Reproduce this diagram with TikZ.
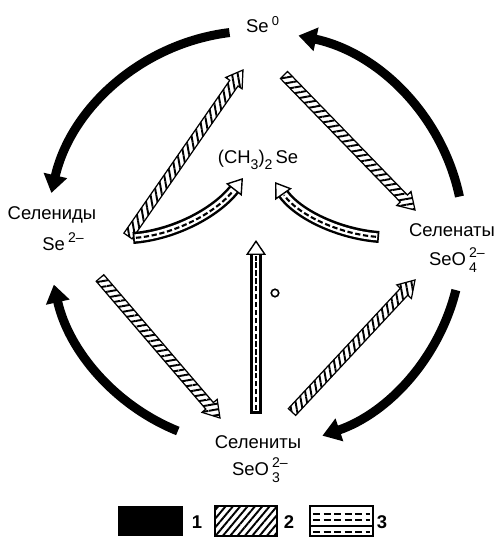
\documentclass[tikz,border=0pt]{standalone}
\usepackage{fontspec}
\setmainfont{Liberation Sans}
\usetikzlibrary{arrows.meta,calc,patterns.meta}

% formula with stacked sub- and superscript
\newcommand{\ionf}[3]{#1\,\makebox[0.85em][l]{%
  \rlap{\raisebox{4.6pt}{\footnotesize #3}}\raisebox{-3.8pt}{\footnotesize #2}}}

% hatched block arrow: stripe angle, tail, tip
\newcommand{\blockarrow}[3]{%
  \coordinate (hb) at ($(#3)!0.32cm!(#2)$);
  \draw[hatch=#1] ($(#2)!0.1cm!90:(#3)$) -- ($(hb)!0.1cm!90:(#3)$)
    -- ($(hb)!0.2cm!90:(#3)$) -- (#3) -- ($(hb)!0.2cm!-90:(#3)$)
    -- ($(hb)!0.1cm!-90:(#3)$) -- ($(#2)!0.1cm!-90:(#3)$) -- cycle;}

% double-walled dashed arrow: tail, control, control, tip
\newcommand{\dasharrow}[4]{%
  \foreach \s in {dshaft,dinner,ddash}
    \draw[\s] (#1) .. controls (#2) and (#3) .. (#4);
  \draw[dhead] ($(#4)!0.3cm!(#3)$) -- (#4);}

\begin{document}
\begin{tikzpicture}[
  x=0.02cm, y=0.02cm,
  font=\fontsize{10.5}{12}\selectfont,
  lbl/.style={inner sep=1pt, align=center},
  cycarrow/.style={line width=0.18cm, -{Triangle[length=0.36cm, width=0.46cm]}},
  hatch/.style={draw, line width=0.7pt, pattern={Lines[angle=#1, distance=3.2pt, line width=1.1pt]}},
  dshaft/.style={line width=0.24cm, shorten >=0.26cm},
  dinner/.style={white, line width=0.14cm, shorten >=0.26cm, shorten <=0.035cm},
  ddash/.style={line width=1.2pt, dash pattern=on 3pt off 1.5pt, shorten >=0.32cm, shorten <=0.06cm},
  dhead/.style={white, line width=0.1pt, -{Triangle[length=0.3cm, width=0.4cm, color=black, fill=white, line width=0.8pt]}}
]
\useasboundingbox (0,0) rectangle (500,539);

% species
\node[lbl] (se0) at (263,514) {Se\,\textsuperscript{0}};
\node[lbl] (selenides) at (52,324) {Селениды};
\node[lbl] (selenidesf) at (63,297) {Se\,\raisebox{4.6pt}{\footnotesize 2--}};
\node[lbl] (selenates) at (452,309) {Селенаты};
\node[lbl] (selenatesf) at (457,279) {\ionf{SeO}{4}{2--}};
\node[lbl] (selenites) at (258,97) {Селениты};
\node[lbl] (selenitesf) at (260,69) {\ionf{SeO}{3}{2--}};
\node[lbl] (dms) at (258,379) {(CH\raisebox{-3.8pt}{\footnotesize 3})\raisebox{-3.8pt}{\footnotesize 2}\,Se};
\node[circle, draw, line width=0.9pt, minimum size=0.15cm, inner sep=0pt] (dot) at (275,246) {};

% outer cycle
\coordinate (c) at (255,299);
\draw[cycarrow] ([shift={(97:209)}]c) arc[start angle=97, end angle=167, radius=209];
\draw[cycarrow] ([shift={(12:209)}]c) arc[start angle=12, end angle=78, radius=209];
\draw[cycarrow] ([shift={(-14:207)}]c) arc[start angle=-14, end angle=-71, radius=207];
\draw[cycarrow] ([shift={(248:206)}]c) arc[start angle=248, end angle=192.5, radius=206];

% hatched arrows
\coordinate (h1a) at (128,303); \coordinate (h1b) at (243,469);
\coordinate (h2a) at (284,464); \coordinate (h2b) at (415,329);
\coordinate (h3a) at (100,261); \coordinate (h3b) at (220,121);
\coordinate (h4a) at (292,127); \coordinate (h4b) at (415,259);
\blockarrow{100}{h1a}{h1b}
\blockarrow{10}{h2a}{h2b}
\blockarrow{10}{h3a}{h3b}
\blockarrow{100}{h4a}{h4b}

% methylation arrows
\coordinate (d1a) at (133,301); \coordinate (d1b) at (172,304);
\coordinate (d1c) at (215,325); \coordinate (d1d) at (243,361);
\coordinate (d2a) at (379,302); \coordinate (d2b) at (340,305);
\coordinate (d2c) at (298,324); \coordinate (d2d) at (275,357);
\coordinate (d3a) at (256,126); \coordinate (d3b) at (256,299);
\dasharrow{d1a}{d1b}{d1c}{d1d}
\dasharrow{d2a}{d2b}{d2c}{d2d}
\dasharrow{d3a}{d3a}{d3a}{d3b}

% legend
\fill (118,3) rectangle (183,33);
\node[lbl, font=\fontsize{10.5}{12}\selectfont\bfseries] (key1) at (197,17) {1};
\draw[hatch=50] (215,3) rectangle (277,33);
\node[lbl, font=\fontsize{10.5}{12}\selectfont\bfseries] (key2) at (289,17) {2};
\draw[line width=0.8pt] (310,3) rectangle (373,33);
\draw[line width=0.8pt] (310,13) -- (373,13);
\foreach \yy in {7,19,25}
  \draw[line width=0.8pt, dash pattern=on 4pt off 2pt] (313,\yy) -- (370,\yy);
\node[lbl, font=\fontsize{10.5}{12}\selectfont\bfseries] (key3) at (382,17) {3};
\end{tikzpicture}
\end{document}
